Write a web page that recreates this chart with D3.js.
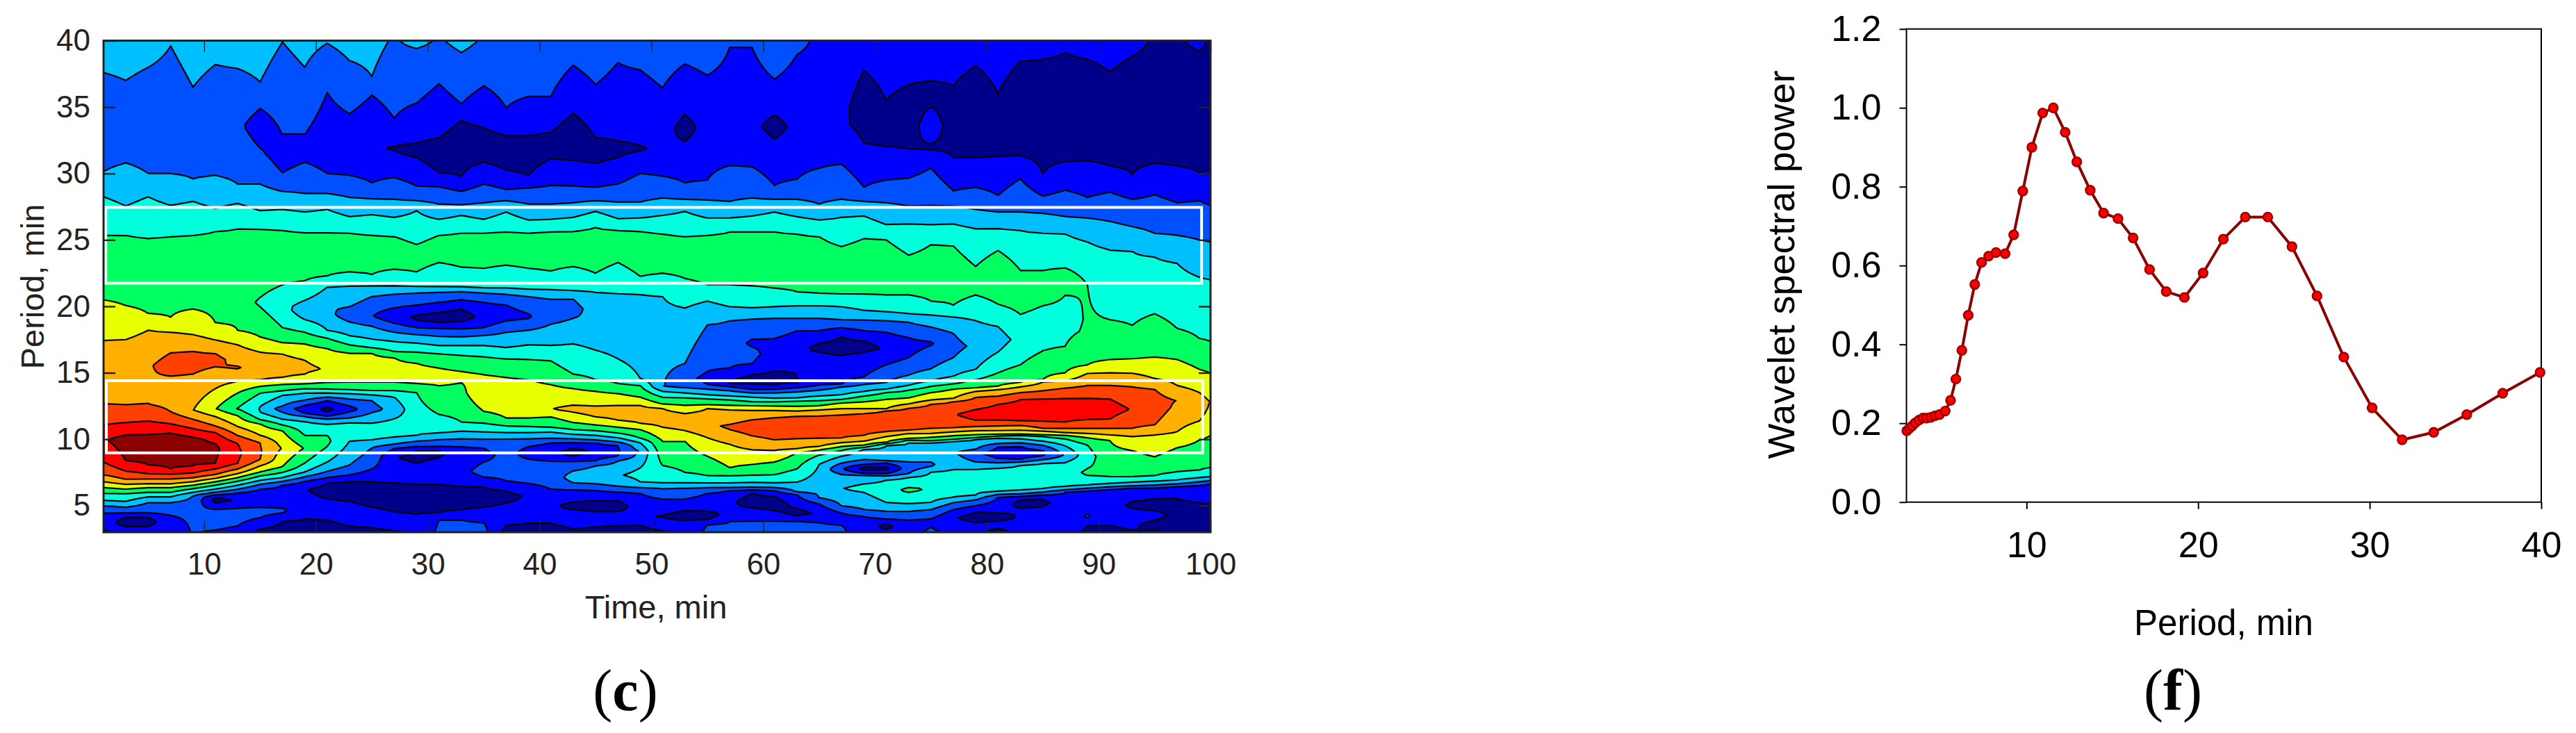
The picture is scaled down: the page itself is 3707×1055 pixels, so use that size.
<!DOCTYPE html>
<meta charset="utf-8">
<style>
body { margin: 0; background: #fff; }
text { font-family: "Liberation Sans", Arial, sans-serif; }
</style>
<svg width="3707" height="1055"></svg>
<script src="https://d3js.org/d3.v7.min.js"></script>
<script>

// panel (c): wavelet map. one profile per time column, flat list of period,power pairs
// power is in contour units: integer = a drawn contour line
var times = [1,3,5,7,9,11,13,15,17,19,21,23,25,27,29,31,33,35,37,39,41,43,45,47,49,51,53,55,57,59,61,63,65,67,69,71,73,75,77,79,81,83,85,87,89,91,93,95,97,99,100];

var profiles = [
[3,.9,3.15,1,4.45,2,4.97,3,5.4,4,5.93,5,6.36,6,6.8,7,7.32,8,8.28,9,9.94,9.9,11.07,9,12.64,8,17.44,7,20.49,6,25.35,5,28.25,4,30.15,3,33.5,2.3,37.6,3,40,3.4],
[3,1.2,3.45,1,3.8,.6,4.1,1,4.45,2,4.88,3,5.32,4,5.9,5,6.24,6,6.6,7,6.98,8,7.6,9,8.37,10,9.94,10.5,10.32,10,11.25,9,12.6,8,17.5,7,20.05,6,25.35,5,27.55,4,30.8,3,33.5,2.3,37,3,40,3.4],
[3,1.2,3.45,1,3.8,.6,4.1,1,4.45,2,5.23,3,5.67,4,6,5,6.36,6,6.65,7,7,8,7.4,9,8.05,10,9.94,10.6,10.34,10,11.37,9,12.64,8,15.5,7.9,18.2,7,19.45,6,25.1,5,28.25,4,30,3,33.5,2.3,38,3,40,3.4],
[3,1.2,4.27,2,5.23,3,5.67,4,6,5,6.36,6,6.63,7,7,8,7.37,9,7.76,10,9.94,10.6,10.46,10,11.16,9,12.07,8,13.5,7.5,14.75,8,15.6,8.4,16.5,8,18.05,7,19.18,6,25.25,5,27.6,4,30,3,33.5,2.3,39.6,3,40,3.2],
[3,2.1,4.5,2.2,5.75,3,6,4,6.28,5,6.54,6,6.8,7,7.1,8,7.45,9,8,10,9.94,10.4,10.15,10,10.8,9,11.5,8,12.2,7.02,13.5,7.5,14.9,8,15.8,8.35,16.6,8,17.87,7,19.8,6,25.35,5,27.9,4,29.6,3,33.5,2.3,36.5,3,40,3.4],
[3,1.8,3.15,2,3.9,2.4,4.7,2,5.2,1,5.4,.7,5.62,1,5.8,2,6.02,3,6.24,4,6.54,5,6.8,6,7.05,7,7.34,8,7.76,9,8.2,10,9.3,10.2,9.68,10,10.5,9,11,8,11.7,7,12.3,6.05,13.8,7,15.45,8,16,8.25,16.45,8,17.47,7,18.75,6,25.65,5,27.35,4,29.85,3,33.5,2.3,38.2,3,40,3.4],
[3,1.7,3.48,2,4.2,2.4,4.8,2,5.4,1.1,5.97,2,6.24,3,6.54,4,6.84,5,7.11,6,7.41,7,7.76,8,8.2,9,9,9.2,9.67,9,10.28,8,10.95,7,11.77,6,12.3,4.95,13.48,6,14.35,7,15.3,8,15.4,8.05,15.5,8,17.1,7,18.2,6,25.85,5,27.75,4,29.2,3,33.7,2.15,37.9,3,40,3.4],
[3,.8,3.25,1,4.1,2,4.5,2.3,4.88,2,5.6,1.3,6.24,2,6.6,3,6.9,4,7.24,5,7.53,6,7.99,7,8.46,8,9,8.1,9.73,8,10.3,7,11.16,6,11.47,5,12.03,4,12.25,3.95,12.47,4,13.46,5,13.98,6,14.47,7,15.4,7.7,16.56,7,17.7,6,19.97,5,20.3,4.8,20.66,5,23,5.7,25.8,5,27.2,4,29.2,3,31.9,2,33.4,1.6,34.9,2,36.9,3,40,3.4],
[3,.7,3.84,1,4.45,2,4.62,2.2,4.8,2,5.5,1.3,6.54,2,6.83,3,7.11,4,7.5,5,7.93,6,9.33,6.95,10.64,6,11.07,5,11.5,4,12.03,3,12.3,2.5,12.5,3,13.3,4,13.64,5,14.12,6,14.65,7,15.5,7.6,16.4,7,17.26,6,18.4,5,20,4.3,21.62,5,23.5,5.7,25.7,5,27.3,4,28.65,3,30.05,2,31.5,1.5,32.95,2,39.9,3,40,3.05],
[3,.6,4,1,5.2,1.4,6.24,1.05,6.83,2,7.18,3,7.53,4,8.2,5,9.33,5.95,10.29,5,11.33,4,11.7,3,11.95,2,12.26,1.5,12.55,2,12.94,3,13.48,4,13.8,5,14.16,6,14.9,7,15.4,7.2,15.95,7,17.17,6,18.05,5,19,4,19.7,3.4,20.45,4,21.93,5,23.5,5.7,25.55,5,27.1,4,28.5,3,30.85,2,32,1.5,32.95,2,38,3,40,3.3],
[3,.6,3.95,1,4.7,1.5,5.5,1,6.1,.6,6.7,1,7.11,2,7.58,3,8.28,4,9.45,5,9.85,5.2,10.29,5,11.12,4,11.5,3,11.73,2,12.08,1,12.25,.7,12.42,1,12.9,2,13.17,3,13.48,4,13.77,5,14.26,6,15.26,6.95,16.83,6,17.6,5,18.2,4,19.8,3.2,21.45,4,22.3,5,23.8,5.6,25.55,5,27.3,4,28.5,3,30,2,32,1.4,36.1,2,39.8,3,40,3.1],
[3,.8,3.47,1,4.4,1.5,5.32,1,6,.6,6.8,1,7.32,2,8.05,3,9.85,4,10.6,4.6,11.25,4,11.6,3,12.06,2,12.25,1.6,12.5,2,13.03,3,13.43,4,13.72,5,14.3,6,15.5,6.6,16.48,6,17.1,5,17.79,4,18.83,3,19.4,2.3,19.97,3,21.53,4,22.6,5,24,5.5,25.5,5,26.75,4,28.2,3,29.85,2,32,1.4,34.5,2,38.5,3,40,3.3],
[3,.8,3.35,1,4.1,1.5,4.88,1,5.8,.5,6.8,1,7.76,2,8.6,2.6,9.36,3,9.94,4,10.6,4.6,11.2,4,12,3,12.25,2.6,12.9,3,13.34,4,13.65,5,14.3,6,15.5,6.5,16.48,6,16.88,5,17.53,4,18.5,3,19.27,2.05,20.75,3,21.53,4,22.4,5,24,5.5,25.35,5,26.9,4,28.1,3,29.3,2,32,1.15,35.9,2,37.3,3,40,3.3],
[3,.8,3.1,1,3.8,1.5,4.53,1,5.6,.5,6.71,1,7.6,1.5,8.63,1.05,9.3,2,9.63,3,10.15,4,10.8,4.6,11.54,4,12.25,3.4,13.17,4,13.66,5,14.3,6,15.2,6.4,16.13,6,16.6,5,17.35,4,18.05,3,18.74,2,19.27,1.1,19.88,2,20.92,3,21.53,4,22.8,5,24,5.5,25.25,5,26.7,4,28.05,3,29.7,2,31.75,1,31.9,.9,32.05,1,34.15,2,40,2.9],
[3,1.2,4.36,1,5.5,.5,6.62,1,7.4,1.6,8.2,1,8.7,.7,9.15,1,9.45,2,9.85,3,10.29,4,12,4.6,13.5,5,14.2,6,15,6.4,15.7,6,16.56,5,17.23,4,17.87,3,18.4,2,18.92,1,19.15,.9,19.35,1,20.09,2,21,3,21.5,4,22.6,5,23.8,5.5,24.65,5,27.2,4,27.95,3,29.05,2,31.2,1,31.7,.6,32.3,1,35.3,2,39.4,3,40,3.3],
[3,2.2,3.9,2,4.5,1,5.5,.5,6.6,1,7.6,1.6,8.63,1,8.9,.8,9.15,1,9.45,2,9.97,3,10.46,4,11.86,5,13,5.6,14.03,6,14.7,6.4,15.36,6,16.43,5,17.05,4,17.75,3,18.33,2,18.8,1,19.2,.7,19.56,1,20.3,2,21.06,3,21.48,4,23.3,5,24.3,5.4,25.35,5,26.55,4,27.7,3,29,2,30.05,1,31.4,.5,32.7,1,36.75,2,40,2.9],
[3,2.3,3.92,2,4.7,1,5.5,.5,6.45,1,7.5,1.7,8.5,1.4,9.45,2,10.03,3,10.6,4,11.3,5,13,5.6,14.26,6,14.7,6.3,15.1,6,16.3,5,17.05,4,17.7,3,18.3,2,18.83,1,19.3,.6,19.8,1,20.5,2,21.1,3,21.45,4,22.95,5,24.2,5.5,25.5,5,26.85,4,27.65,3,28.65,2,29.8,1,31.9,.5,34,1,35.25,2,39.1,3,40,3.3],
[3,2.3,3.7,2,4.9,1,5.6,.5,6.4,1,6.8,1.7,7.15,2,7.6,2.4,8.28,2,8.8,1.6,9.33,2,10,3,10.55,4,11.2,5,12.1,6,13.5,6.8,14.86,6,16.2,5,17.05,4,17.8,3,18.4,2,19.15,1.2,20.3,2,21,3,21.4,4,22.85,5,24.2,5.5,25.5,5,26.55,4,27.8,3,29.2,2,30.85,1,32,.5,33.45,1,36.6,2,40,2.9],
[3,.7,3.53,1,4.4,1.4,5.2,1,5.65,.7,6.1,1,6.83,2,8.8,2.4,10.03,3,10.5,4,11,5,11.6,6,13,6.8,14.65,6,16.05,5,16.9,4,18.05,3,18.9,2,19.5,1.6,20.1,2,20.9,3,21.36,4,23.1,5,24.4,5.5,25.6,5,27.1,4,27.95,3,28.8,2,30.25,1,31.5,.5,32.85,1,34.95,2,40,2.9],
[3,.7,3.67,1,4.7,1.4,5.75,1.1,6.66,2,7.5,2.4,8.5,2,9,1.5,9.45,2,10.03,3,10.5,4,10.95,5,11.6,6,13,6.8,14.47,6,16,5,17.1,4,18.2,3,19.06,2,19.25,1.9,19.44,2,20.75,3,21.3,4,22.85,5,24.2,5.5,25.5,5,26.5,4,27.7,3,28.9,2,29.85,1,31.4,.5,32.85,1,35.8,2,40,2.8],
[3,.7,3.67,1,5,1.2,6.24,2,7.3,2.5,8.37,2,9,1.1,9.73,2,10.07,3,10.55,4,10.9,5,11.68,6,12.25,6.98,13.2,6.5,14.1,6,15,5.4,15.9,5,17.05,4,18.66,3,19.6,2.3,20.55,3,21.24,4,22.65,5,24.2,5.5,25.6,5,26.55,4,27.7,3,29.1,2,31.1,1,32,.6,33.1,1,35.8,2,40,2.8],
[3,.8,3.23,1,4,1.3,4.7,1,5,.7,5.27,1,6.19,2,6.71,3,7.1,3.4,7.62,3,8.33,2,8.72,1,9,.7,9.33,1,9.73,2,10.03,3,10.37,4,10.72,5,11.25,6,12.03,7,12.3,7.3,12.55,7,13.81,6,14.9,5,17.18,4,19.1,3,19.8,2.6,20.55,3,21.19,4,23,5,24.3,5.4,25.65,5,26.7,4,27.8,3,29.05,2,31,1,32.8,.4,34.55,1,38.15,2,40,2.8],
[3,.8,3.4,1,4,1.3,4.57,1,5,.7,5.4,1,6.14,2,6.63,3,7.3,3.6,7.99,3,8.37,2,9.15,1.05,9.72,2,9.94,3,10.29,4,10.64,5,11.07,6,11.68,7,12.1,7.4,12.5,7,13.6,6,14.47,5,16.7,4,19,3.2,21.06,4,22.5,5,24.2,5.6,25.95,5,27.15,4,27.95,3,28.95,2,30.75,1,31.7,.6,32.7,1,36.7,2,40,2.7],
[3,.8,3.49,1,4,1.3,4.57,1,5,.7,5.37,1,6.02,2,6.45,3,7.3,3.9,8.37,3,8.72,2,9.15,1.9,9.5,2,9.8,3,10.11,4,10.46,5,10.9,6,11.42,7,12,7.4,12.55,7,13.43,6,14.2,5,16.04,4,18.5,3.3,20.96,4,23.3,5,24.4,5.3,25.7,5,26.6,4,27.85,3,29.2,2,31.2,1,31.8,.8,32.45,1,38.35,2,40,2.7],
[3,.8,3.53,1,4.7,1.2,5.93,2,6.36,3,6.8,4,7.3,4.3,7.85,4,9.1,3.1,9.73,4,10.08,5,10.72,6,11.2,7,12,7.5,12.55,7,13.16,6,14.04,5,14.56,4,17.5,3.2,20.89,4,22.25,5,24,5.6,25.65,5,26.65,4,27.85,3,30,2,31.7,1,31.9,.9,32.1,1,37.8,2,40,2.7],
[3,.8,3.1,1,3.6,1.3,4.2,.95,4.6,1.3,5.49,2,6.28,3,6.71,4,8.02,5,9.85,6,10.9,7,11.6,7.6,12.3,7,12.64,6,13.16,5,13.6,4,13.95,3,14.5,3.1,20.75,4,22.5,5,24,5.4,25.45,5,26.85,4,28.15,3,29.8,2,32,1.2,36.45,2,40,2.6],
[3,1.3,3.87,1,4.3,.6,4.62,1,5.49,2,6.31,3,6.71,4,7.5,5,9.85,6,10.64,7,11.3,7.5,11.94,7,12.55,6,13.11,5,13.48,4,13.86,3,14.5,2.3,15.7,3,19.88,4,22.1,5,23.8,5.5,25.25,5,27.15,4,28.05,3,29.3,2,32.4,1,33.4,.6,34.47,1,38.25,2,40,2.6],
[3,2.2,3.58,2,3.95,1,4.3,.6,4.55,1,5.2,1.4,5.93,2,6.36,3,6.71,4,7.24,5,8.72,6,10.11,7,11,7.9,12.3,7,12.6,6,13.04,5,13.34,4,13.77,3,14.12,2,14.6,1.7,15.1,2,18.6,3,20.4,4,21.62,5,23.5,5.6,25.35,5,26.65,4,28,3,29.5,2,33.5,1.4,37.4,2,40,2.6],
[3,2.2,3.8,2,4.6,1.05,5.3,1.2,6.14,2,6.36,3,6.71,4,7.24,5,7.85,6,9.62,7,10.72,8,10.95,8.1,11.12,8,12.2,7,12.55,6,12.96,5,13.25,4,13.65,3,13.95,2,14.2,1,14.3,.95,14.4,1,15.35,2,18.92,3,19.97,4,21.62,5,23.5,5.6,25.6,5,26.65,4,27.9,3,30.6,2,33.5,1.4,40,2.05],
[3,2.2,3.87,2,4.83,1,5.4,.5,5.93,1,6.19,2,6.4,3,6.75,4,7.29,5,8.1,6,9.2,7,10.25,8,10.9,8.5,11.47,8,12.17,7,12.52,6,12.82,5,13.16,4,13.48,3,13.74,2,14.12,1,14.5,.7,14.86,1,15.7,2,16.4,2.3,16.95,2,17.25,1.8,17.52,2,19.05,3,19.9,4,21.53,5,23.5,5.6,25.6,5,26.8,4,28.15,3,30.5,2,33.6,1.3,39.5,2,40,2.3],
[3,2.2,3.87,2,4.62,1,5.2,.5,5.67,1,6.14,2,6.36,3,6.71,4,7.32,5,8.28,6,9.15,7,9.94,8,10.8,8.6,11.63,8,12.17,7,12.5,6,12.82,5,13.08,4,13.48,3,13.74,2,14.09,1,14.6,.6,15.12,1,17.58,2,19.1,3,19.97,4,21.36,5,23.5,5.6,25.6,5,27.1,4,28.05,3,29.1,2,32.6,1,33.5,.6,34.4,1,37.1,2,40,2.6],
[3,2.2,3.85,2,4.22,1,4.5,.7,4.8,1,5.84,2,6.02,3,6.76,4,7.76,5,8.98,6,9.28,7,10.03,8,10.9,8.6,11.73,8,12.12,7,12.47,6,12.87,5,13.11,4,13.57,3,13.86,2,14.26,1,14.43,.85,14.6,1,16.6,1.1,18.17,2,19.1,3,20.04,4,21.1,5,23.3,5.6,25.45,5,26.75,4,28.05,3,29.55,2,33.5,1.3,38.95,2,40,2.3],
[3,2.2,3.75,2,4.4,1.1,5.14,2,5.58,3,7,3.6,8.1,4,8.8,5,9.19,6,9.45,7,10.06,8,10.9,8.55,11.77,8,12.2,7,12.52,6,12.9,5,13.25,4,13.69,3,14.04,2,15.2,1.5,16.56,1,16.9,.8,17.21,1,18.17,2,19.1,3,20.05,4,21,5,23.2,5.6,25.25,5,26.5,4,27.7,3,30.4,2,33.5,1.4,40,1.8],
[3,2.2,3.52,2,4,1.6,4.45,2,4.97,3,6.3,3.95,7.36,3,7.75,2.05,8.2,3,8.72,4,9.15,5,9.45,6,9.73,7,10.1,8,10.95,8.6,11.85,8,12.3,7,12.73,6,13,5,13.34,4,13.95,3,14.12,2,15.2,1.4,16.3,1,17,.6,17.7,1,18.4,2,19,3,19.97,4,20.92,5,22.8,5.8,24.5,5,26.7,4,28.05,3,30.7,2,33.7,1.15,40,1.8],
[3,1.3,4.19,2,4.71,3,6,4,6.3,4.4,6.63,4,7.29,3,7.41,2,7.67,1,7.78,.7,7.9,1,8.11,2,8.46,3,9.24,4,9.38,5,9.55,6,9.85,7,10.29,8,11.1,8.7,11.94,8,12.3,7,12.82,6,13.25,5,13.6,4,14.12,3,14.68,2,16.56,1,17,.6,17.4,1,18.17,2,18.97,3,19.7,4,20.92,5,23,5.8,25.1,5,26.8,4,27.9,3,28.95,2,32.3,1,35,.5,37.75,1,40,1.5],
[3,1.3,3.23,1,3.45,.7,3.66,1,4,2,4.57,3,5.23,4,6,4.6,6.92,4,7.24,3,7.41,2,7.71,1,7.82,.7,7.93,1,8.2,2,8.37,3,9.5,4,9.67,5,9.76,6,10.2,7,10.55,8,11.3,8.6,12.17,8,12.3,7,13,6,13.51,5,13.77,4,14.26,3,15.6,2,16.8,1.1,18.05,2,18.92,3,19.6,4,20.85,5,23,5.8,25,5,26.15,4,27.8,3,29.5,2,32.05,1,33.5,.5,35.5,1,40,1.5],
[3,1.3,3.92,2,4.57,3,5.14,4,6,5,6.18,5.3,6.36,5,7.11,4,7.41,3,7.8,2.6,8.28,3,9.73,4,9.94,5,10.03,6,10.43,7,10.67,8,11.5,8.7,12.35,8,12.65,7,13.11,6,13.69,5,14.04,4,14.82,3,16.13,2,16.9,1.7,17.65,2,18.8,3,19.43,4,20.85,5,22.5,5.7,23.85,5,26.2,4,27.55,3,29.65,2,31.85,1,34,.5,36.65,1,40,1.4],
[3,2.3,3.35,2,3.7,1.7,4,2,4.71,3,5.23,4,6.3,4.9,7.53,4,7.93,3,8.1,2.85,8.28,3,9.73,4,9.88,5,10.14,6,10.43,7,10.81,8,11.7,8.8,12.64,8,12.94,7,13.51,6,13.98,5,14.38,4,15.3,3,17.05,2,17.2,1.9,17.35,2,18.45,3,19.35,4,20.4,5,22.5,5.6,24.65,5,26.15,4,27.6,3,30.4,2,31.8,1,32,.8,32.25,1,33.7,1.5,35,1,36,.6,36.95,1,40,1.4],
[3,1.5,4.1,1.1,4.7,2,5.23,3,5.62,4,6.7,4.9,7.71,4,9,3.1,9.85,4,9.99,5,10.26,6,10.55,7,10.84,8,11.86,8.95,12.82,8,13.08,7,13.77,6,14.16,5,14.73,4,16.13,3,17,2.7,17.97,3,19.2,4,20.1,5,22.3,5.7,24.55,5,26.2,4,27.55,3,28.7,2,31.2,1,34,.5,36.6,1,40,1.4],
[3,1.3,3.75,1,4.1,.6,4.5,1,5,2,5.44,3,5.8,4,6.8,4.6,7.74,4,8.28,3,8.9,2.2,9.24,3,9.99,4,10.11,5,10.34,6,10.64,7,10.95,8,11.42,9,11.8,9.4,12.24,9,13.16,8,13.6,7,13.86,6,14.47,5,15.25,4,17,3.2,18.92,4,20.85,5,22,5.4,23,5,25.85,4,27.3,3,28.95,2,31.2,1,34.5,.4,38.1,1,40,1.4],
[3,.7,3.28,1,3.5,1.2,3.84,1,4.15,.6,4.45,1,5.62,2,5.84,3,6.07,4,7,4.6,7.81,4,8.23,3,8.54,2,9,1.5,9.41,2,9.68,3,10.08,4,10.24,5,10.38,6,10.64,7,11,8,11.42,9,12,9.4,12.64,9,13.25,8,13.74,7,14,6,15,5,16.56,4,17.5,3.6,18.48,4,20.15,5,22.5,5.8,24.2,5,25.85,4,27.1,3,28.35,2,31.3,1,33.5,.5,36,1,40,1.4],
[3,1.3,4.8,1,5.1,.7,5.44,1,5.7,2,5.9,3,6.14,4,7,4.6,8.06,4,8.28,3,8.46,2,9,1.5,9.45,2,9.73,3,10.03,4,10.29,5,10.38,6,10.67,7,11.04,8,11.39,9,12.2,9.5,12.99,9,13.51,8,13.95,7,14.25,6,15.6,5,17.5,4.3,19.39,5,21,5.5,22.7,5,25.7,4,27.1,3,29.6,2,31.35,1,34.5,.4,38.45,1,40,1.4],
[3,1.3,4.97,1,5.2,.7,5.49,1,5.79,2,6.02,3,6.28,4,7.2,4.6,8.19,4,8.46,3,8.72,2,8.95,1.8,9.15,2,9.55,3,9.85,4,10.2,5,10.32,6,10.6,7,10.81,8,11.33,9,12.2,9.5,13.04,9,13.65,8,14.3,7,14.47,6,16.65,5,18.3,4.5,20.05,5,21.4,5.6,22.7,5,25.5,4,27,3,28.3,2,29.95,1,34,.4,38.6,1,40,1.4],
[3,1.5,5,1.6,6,2,6.2,3,6.42,4,7.3,4.6,8.25,4,8.8,3.1,9.5,4,10.03,5,10.29,6,10.5,7,10.81,8,11.3,9,12.2,9.5,13.08,9,13.86,8,14.38,7,15,6,17,5,19,4.7,20.85,5,21.9,5.6,22.9,5,25.45,4,26.75,3,28.75,2,30.9,1,35,.4,39.1,1,40,1.4],
[3,.8,3.5,1,3.8,1.5,4.1,2,4.23,2.1,4.36,2,5.2,1.6,6.1,2,6.31,3,6.54,4,7.27,5,7.5,5.2,7.8,5,8.7,4.6,9.56,5,10.11,6,10.43,7,10.81,8,11.47,9,12.3,9.5,13.08,9,14.04,8,14.96,7,15.6,6,18.1,5.1,21.6,5,24.85,4,26.65,3,28.2,2,30.95,1,35,.4,38.6,1,40,1.4],
[3,.8,3.5,1,4.8,1.6,6.24,2,6.42,3,6.66,4,7.18,5,8.5,5.6,9.9,6,10.32,7,10.81,8,11.51,9,12.3,9.4,13.04,9,14.04,8,15,7,15.99,6,19,5,24.25,4,26.4,3,28.6,2,30.55,1,34.5,.4,37.65,1,40,1.3],
[3,.9,3.15,1,4,1.3,4.8,1,5.05,.7,5.32,1,6.31,2,6.49,3,6.77,4,7.15,5,9.15,6,10.2,7,10.81,8,12.25,8.95,13.95,8,14.96,7,16.04,6,18.57,5,24.15,4,26,3,28.05,2,29.9,1,34.5,.4,38.85,1,40,1.3],
[3,1.2,3.15,1,3.5,.7,3.92,1,4.27,1.3,4.62,1,5.1,.7,5.53,1,6.36,2,6.54,3,6.84,4,7.24,5,8.68,6,10.32,7,11.07,8,12.4,8.6,13.77,8,14.56,7,16.18,6,19.44,5,23.7,4,25.5,3,28.4,2,30.75,1,35,.4,40,.9],
[3,.5,5.58,1,6.45,2,6.63,3,6.92,4,7.53,5,9.36,6,10.55,7,12.9,7.98,14.04,7,16,6,18.34,5,23.25,4,25.35,3,27.8,2,30.55,1,35,.4,40,.9],
[3,.5,5.27,1,6.54,2,6.8,3,7.11,4,7.67,5,9.94,6,11.37,7,12.4,7.6,13.51,7,15.26,6,17.58,5,22.2,4,25,3,27.95,2,30.05,1,35,.4,39.2,1,40,1.2],
[3,.5,5.14,1,6.66,2,6.89,3,7.18,4,7.85,5,10.29,6,12.8,6.98,14.96,6,17.35,5,22,4,24.85,3,27.6,2,30.25,1,35,.4,40,.9]
];

var levels = [1,2,3,4,5,6,7,8,9,10];
var bandColors = ["#00008b","#0000ff","#0050ff","#00bfff","#00ffdd","#00ff60","#e8ff00","#ffb000","#ff4000","#ff0000","#8b0000"];
var mapXTicks = [10,20,30,40,50,60,70,80,90,100];
var mapYTicks = [5,10,15,20,25,30,35,40];
// white boxes, [time start, time end, period low, period high]
var boxes = [[1.2,99.2,21.74,27.45],[1.25,99.3,8.97,14.4]];

// panel (f): period vs spectral power
var periods = [3.02,3.17,3.33,3.51,3.73,3.95,4.17,4.42,4.67,4.92,5.26,5.57,5.88,6.23,6.6,6.98,7.38,7.79,8.22,8.75,9.25,9.78,10.31,10.94,11.56,12.25,12.93,13.71,14.49,15.33,16.21,17.17,18.14,19.2,20.29,21.47,22.75,24.06,25.47,26.93,28.49,30.14,31.89,33.73,35.66,37.75,39.93];
var spectrum = [.181,.187,.193,.201,.208,.213,.213,.215,.219,.222,.231,.258,.312,.385,.474,.552,.608,.624,.633,.63,.678,.789,.9,.987,1,.938,.863,.791,.733,.719,.67,.59,.534,.519,.581,.667,.723,.723,.648,.523,.368,.239,.158,.177,.222,.276,.329];

var svg = d3.select("svg");

// ---- panel c ----
var x = d3.scaleLinear().domain([1,100]).range([149,1742]),
    y = d3.scaleLinear().domain([3,40]).range([766,58.5]);

// resample the profiles on a regular period grid for d3.contours
var dp = 0.1,
    nCols = times.length,
    nRows = Math.round((40-3)/dp)+1,
    values = new Array(nCols*nRows);

profiles.forEach(function(knots,i){
  var ps = knots.filter(function(d,k){return k%2==0}),
      zs = knots.filter(function(d,k){return k%2==1}),
      z = d3.scaleLinear().domain(ps).range(zs);
  for (var j=0;j<nRows;j++) values[i+j*nCols] = z(3+j*dp);
});

var colToTime = d3.scaleLinear().domain(d3.range(nCols)).range(times);

function toScreen(pt){
  return [x(colToTime(pt[0]-0.5)), y(3+(pt[1]-0.5)*dp)];
}

var contours = d3.contours().size([nCols,nRows]).thresholds(levels)(values);
var path = d3.geoPath();

svg.append("clipPath").attr("id","mapclip").append("rect")
  .attr("x",x(1)).attr("y",y(40)).attr("width",x(100)-x(1)).attr("height",y(3)-y(40));

var map = svg.append("g").attr("clip-path","url(#mapclip)");

map.append("rect")
  .attr("x",x(1)).attr("y",y(40)).attr("width",x(100)-x(1)).attr("height",y(3)-y(40))
  .attr("fill",bandColors[0]);

map.selectAll("path").data(contours).enter().append("path")
  .attr("d",function(c){
    return path({type:"MultiPolygon",coordinates:c.coordinates.map(function(poly){
      return poly.map(function(ring){return ring.map(toScreen)});
    })});
  })
  .attr("fill",function(c){return bandColors[c.value]})
  .attr("stroke","#000")
  .attr("stroke-width",2.2)
  .attr("stroke-linejoin","round");

svg.append("g").selectAll("rect").data(boxes).enter().append("rect")
  .attr("x",function(d){return x(d[0])})
  .attr("width",function(d){return x(d[1])-x(d[0])})
  .attr("y",function(d){return y(d[3])})
  .attr("height",function(d){return y(d[2])-y(d[3])})
  .attr("fill","none").attr("stroke","#fff").attr("stroke-width",4);

var mapAxis = svg.append("g");
function styleMapAxis(g,tickW){
  g.select(".domain").remove();
  g.selectAll("line").attr("stroke","#222").attr("stroke-width",tickW);
  g.selectAll("text").attr("fill","#222").style("font-size","44px");
}
mapAxis.append("g").attr("transform","translate(0,"+y(3)+")")
  .call(d3.axisBottom(x).tickValues(mapXTicks).tickSize(-16).tickPadding(30).tickFormat(d3.format("d")))
  .call(styleMapAxis,1.4);
mapAxis.append("g").attr("transform","translate(0,"+y(40)+")")
  .call(d3.axisTop(x).tickValues(mapXTicks).tickSize(-16).tickFormat(""))
  .call(styleMapAxis,1.4);
mapAxis.append("g").attr("transform","translate("+x(1)+",0)")
  .call(d3.axisLeft(y).tickValues(mapYTicks).tickSize(-17).tickPadding(19).tickFormat(d3.format("d")))
  .call(styleMapAxis,2.4);
mapAxis.append("g").attr("transform","translate("+x(100)+",0)")
  .call(d3.axisRight(y).tickValues(mapYTicks).tickSize(-17).tickFormat(""))
  .call(styleMapAxis,2.4);

svg.append("rect")
  .attr("x",x(1)).attr("y",y(40)).attr("width",x(100)-x(1)).attr("height",y(3)-y(40))
  .attr("fill","none").attr("stroke","#222").attr("stroke-width",3);

svg.append("text").attr("x",944).attr("y",890).attr("text-anchor","middle")
  .attr("fill","#222").style("font-size","47px").text("Time, min");
svg.append("text").attr("transform","translate(63,412.5) rotate(-90)").attr("text-anchor","middle")
  .attr("fill","#222").style("font-size","47px").text("Period, min");

// ---- panel f ----
var xf = d3.scaleLinear().domain([3,40]).range([2743.5,3657]),
    yf = d3.scaleLinear().domain([0,1.2]).range([722.7,41.7]);

var axF = svg.append("g");
function styleF(g){
  g.select(".domain").remove();
  g.selectAll("line").attr("stroke","#000").attr("stroke-width",2);
  g.selectAll("text").attr("fill","#000").style("font-size","52px");
}
axF.append("g").attr("transform","translate(0,"+yf(0)+")")
  .call(d3.axisBottom(xf).tickValues([10,20,30,40]).tickSize(10).tickPadding(32).tickFormat(d3.format("d")))
  .call(styleF);
axF.append("g").attr("transform","translate("+xf(3)+",0)")
  .call(d3.axisLeft(yf).tickValues([0,.2,.4,.6,.8,1,1.2]).tickSize(10).tickPadding(26).tickFormat(d3.format(".1f")))
  .call(styleF);

svg.append("rect")
  .attr("x",xf(3)).attr("y",yf(1.2)).attr("width",xf(40)-xf(3)).attr("height",yf(0)-yf(1.2))
  .attr("fill","none").attr("stroke","#000").attr("stroke-width",2);

var line = d3.line()
  .x(function(d,i){return xf(periods[i])})
  .y(function(d){return yf(d)});

svg.append("path").attr("d",line(spectrum))
  .attr("fill","none").attr("stroke","#8b0000").attr("stroke-width",4);

svg.append("g").selectAll("circle").data(spectrum).enter().append("circle")
  .attr("cx",function(d,i){return xf(periods[i])})
  .attr("cy",function(d){return yf(d)})
  .attr("r",6.4)
  .attr("fill","#ff0000").attr("stroke","#a00000").attr("stroke-width",2.6);

svg.append("text").attr("x",3200).attr("y",914).attr("text-anchor","middle")
  .style("font-size","51px").text("Period, min");
svg.append("text").attr("transform","translate(2582,381) rotate(-90)").attr("text-anchor","middle")
  .style("font-size","54px").text("Wavelet spectral power");

// panel letters
[["c",900],["f",3127]].forEach(function(d){
  var t = svg.append("text").attr("x",d[1]).attr("y",1022).attr("text-anchor","middle")
    .style("font-family","'Liberation Serif', serif").style("font-size","84px");
  t.append("tspan").text("(");
  t.append("tspan").style("font-weight","bold").text(d[0]);
  t.append("tspan").text(")");
});

</script>
